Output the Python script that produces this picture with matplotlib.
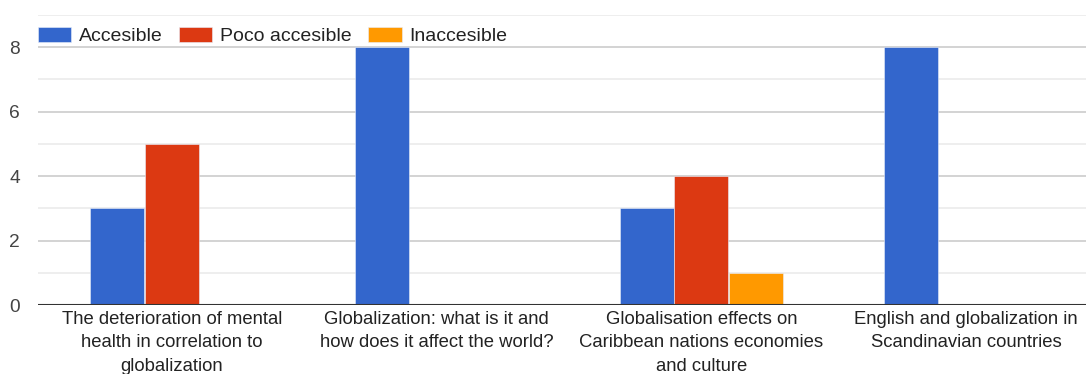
import matplotlib.pyplot as plt
from matplotlib.ticker import MultipleLocator
import numpy as np

# survey answers per article topic
topics = ["The deterioration of mental\nhealth in correlation to\nglobalization",
          "Globalization: what is it and\nhow does it affect the world?",
          "Globalisation effects on\nCaribbean nations economies\nand culture",
          "English and globalization in\nScandinavian countries"]
series_names = ["Accesible", "Poco accesible", "Inaccesible"]
accesible = [3, 8, 3, 8]
poco_accesible = [5, 0, 4, 0]
inaccesible = [0, 0, 1, 0]
colors = ["#3366cc", "#dc3912", "#ff9900"]

plt.rcParams['font.family'] = ['Liberation Sans', 'DejaVu Sans']

fig = plt.figure(figsize=(10.86, 3.74), dpi=100)
ax = fig.add_axes([38/1086, 69/374, 1048/1086, 290/374])

x = np.arange(len(topics))
width = 0.204
step = 0.207
for i, (name, vals) in enumerate(zip(series_names, [accesible, poco_accesible, inaccesible])):
    ax.bar(x + (i - 1) * step, vals, width, color=colors[i], label=name,
           edgecolor='#e8eefa', linewidth=0.4, zorder=3)

ax.set_ylim(0, 9)
ax.set_xlim(-0.506, 3.453)
ax.yaxis.set_major_locator(MultipleLocator(2))
ax.yaxis.set_minor_locator(MultipleLocator(1))
ax.grid(axis='y', which='major', color='#cccccc', linewidth=1.2, zorder=0)
ax.grid(axis='y', which='minor', color='#ebebeb', linewidth=1.2, zorder=0)
ax.axhline(0, color='#333333', linewidth=1.5, zorder=4)

for s in ax.spines.values():
    s.set_visible(False)
ax.tick_params(axis='both', which='both', length=0)
ax.tick_params(axis='y', labelsize=13.8, labelcolor='#444444', pad=13)
ax.set_xticks(x)
ax.set_xticklabels(topics, fontsize=13.3, color='#222222', linespacing=1.5)
ax.tick_params(axis='x', pad=4)

leg = ax.legend(loc='upper left', bbox_to_anchor=(0.0, 0.958), ncol=3, frameon=False,
                fontsize=14, handlelength=1.7, handleheight=0.82, handletextpad=0.41,
                columnspacing=0.85, borderaxespad=0, borderpad=0)
for t in leg.get_texts():
    t.set_color('#222222')

fig.savefig('out.png', dpi=100)
